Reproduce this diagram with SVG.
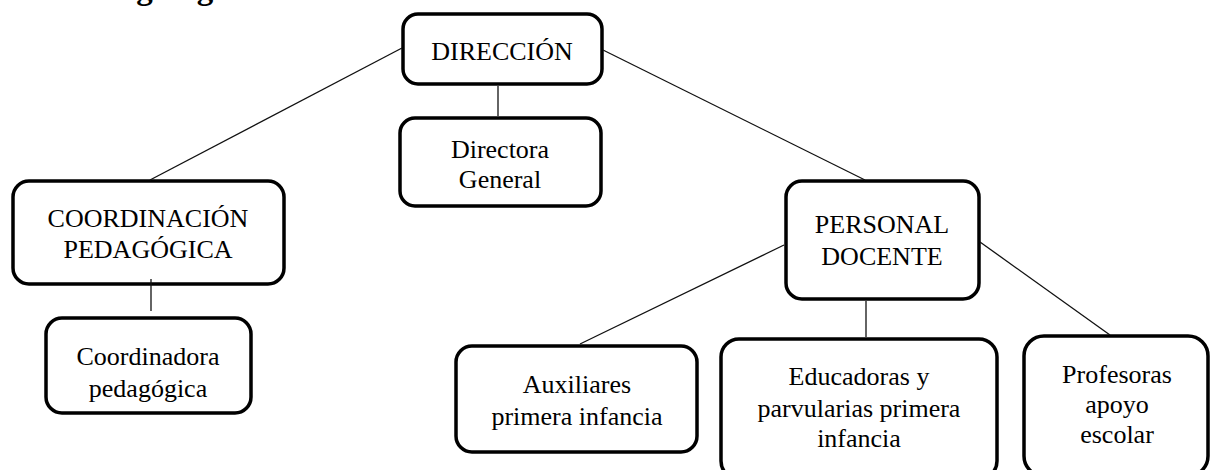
<svg xmlns="http://www.w3.org/2000/svg" width="1211" height="470" viewBox="0 0 1211 470">
<style>
.box{fill:#fff;stroke:#000;stroke-width:3.5}
.t{font-family:"Liberation Serif","Times New Roman",serif;font-size:26px;fill:#000;text-anchor:middle}
.h{font-family:"Liberation Serif","Times New Roman",serif;font-size:33px;font-weight:bold;fill:#000}
.c{stroke:#111;stroke-width:1.3;fill:none}
</style>
<rect width="1211" height="470" fill="#fff"/>
<text class="h" x="96" y="-1.5">Organigrama</text>
<g id="n-direccion"><rect class="box" x="403" y="14" width="199" height="70" rx="15"/><text class="t" x="502" y="60">DIRECCIÓN</text></g>
<g id="n-directora"><rect class="box" x="400" y="118" width="201" height="88" rx="15"/><text class="t" x="500" y="158">Directora</text><text class="t" x="500" y="188">General</text></g>
<g id="n-coordinacion"><rect class="box" x="13" y="181" width="271" height="103" rx="16"/><text class="t" x="148" y="227">COORDINACIÓN</text><text class="t" x="148" y="258">PEDAGÓGICA</text></g>
<g id="n-coordinadora"><rect class="box" x="46" y="318" width="205" height="95" rx="16"/><text class="t" x="148" y="365">Coordinadora</text><text class="t" x="148" y="397">pedagógica</text></g>
<g id="n-personal"><rect class="box" x="786" y="181" width="193" height="118" rx="16"/><text class="t" x="882" y="233">PERSONAL</text><text class="t" x="882" y="265">DOCENTE</text></g>
<g id="n-auxiliares"><rect class="box" x="456" y="346" width="241" height="106" rx="16"/><text class="t" x="577" y="393">Auxiliares</text><text class="t" x="577" y="425">primera infancia</text></g>
<g id="n-educadoras"><rect class="box" x="721" y="339" width="276" height="140" rx="18"/><text class="t" x="859" y="385">Educadoras y</text><text class="t" x="859" y="417">parvularias primera</text><text class="t" x="859" y="447">infancia</text></g>
<g id="n-profesoras"><rect class="box" x="1024" y="336" width="184" height="140" rx="20"/><text class="t" x="1117" y="383">Profesoras</text><text class="t" x="1117" y="413">apoyo</text><text class="t" x="1117" y="443">escolar</text></g>
<g id="connectors">
<line class="c" x1="402" y1="48" x2="150" y2="180"/>
<line class="c" x1="498" y1="86" x2="498" y2="116"/>
<line class="c" x1="603" y1="50" x2="865" y2="180"/>
<line class="c" x1="151" y1="279" x2="151" y2="311"/>
<line class="c" x1="784" y1="245" x2="580" y2="344"/>
<line class="c" x1="866" y1="301" x2="866" y2="337"/>
<line class="c" x1="980" y1="242" x2="1110" y2="335"/>
</g>
</svg>
